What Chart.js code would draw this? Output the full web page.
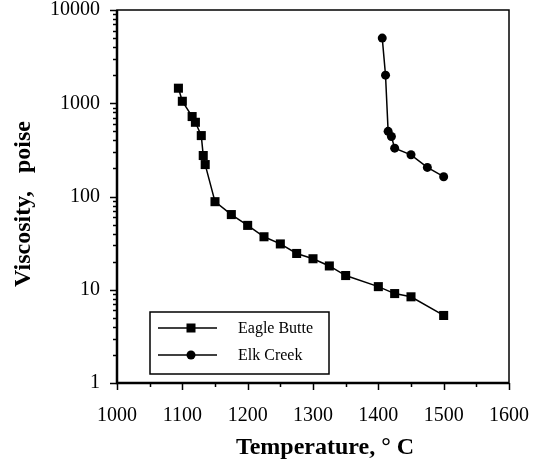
<!DOCTYPE html>
<html>
<head>
<meta charset="utf-8">
<script src="https://cdn.jsdelivr.net/npm/chart.js@4"></script>
<style>
  html, body { margin: 0; padding: 0; background: #fff; }
  #wrap { width: 538px; height: 463px; position: relative; }
</style>
</head>
<body>
<div id="wrap"><canvas id="viscChart"></canvas></div>
<script>
// --- data ---
const eagleTemp = [1094, 1100, 1115, 1120, 1129, 1132, 1135, 1150, 1175, 1200, 1225, 1250, 1275, 1300, 1325, 1350, 1400, 1425, 1450, 1500];
const eagleVisc = [1450, 1050, 720, 625, 450, 275, 220, 88, 64, 49, 37, 31, 24.5, 21.5, 18, 14.2, 10.8, 9.1, 8.4, 5.3];
const elkTemp = [1406, 1411, 1415, 1420, 1425, 1450, 1475, 1500];
const elkVisc = [5000, 2000, 500, 440, 330, 280, 205, 163];
const xTicks = [1000, 1100, 1200, 1300, 1400, 1500, 1600];
const yTicks = [1, 10, 100, 1000, 10000];
const seriesNames = ["Eagle Butte", "Elk Creek"];

const SERIF = "'Liberation Serif', 'Times New Roman', serif";

function pts(xs, ys) { return xs.map((x, i) => ({ x: x, y: ys[i] })); }

// frame, tick marks, axis titles and the boxed legend
const framePlugin = {
    id: 'frame',
    afterDraw(chart) {
        const ctx = chart.ctx;
        const a = chart.chartArea;
        const xs = chart.scales.x, ys = chart.scales.y;
        ctx.save();
        ctx.strokeStyle = '#000';

        // box
        ctx.lineWidth = 1.5;
        ctx.strokeRect(a.left, a.top, a.right - a.left, a.bottom - a.top);
        ctx.lineWidth = 2.5;
        ctx.beginPath();
        ctx.moveTo(a.left, a.top); ctx.lineTo(a.left, a.bottom); ctx.lineTo(a.right, a.bottom);
        ctx.stroke();

        // y ticks (log, with minors)
        ctx.lineWidth = 1.5;
        for (let d = 0; d < yTicks.length; d++) {
            const base = yTicks[d];
            for (let m = 1; m <= 9; m++) {
                const v = base * m;
                if (v > yTicks[yTicks.length - 1]) break;
                const py = Math.round(ys.getPixelForValue(v)) + 0.5;
                const len = m === 1 ? 7 : 4;
                ctx.beginPath();
                ctx.moveTo(a.left - len, py); ctx.lineTo(a.left, py);
                ctx.stroke();
            }
        }
        // x ticks with half-steps
        for (let i = 0; i < xTicks.length; i++) {
            const px = Math.round(xs.getPixelForValue(xTicks[i])) + 0.5;
            ctx.beginPath();
            ctx.moveTo(px, a.bottom); ctx.lineTo(px, a.bottom + 7);
            ctx.stroke();
            if (i < xTicks.length - 1) {
                const hx = Math.round(xs.getPixelForValue((xTicks[i] + xTicks[i + 1]) / 2)) + 0.5;
                ctx.beginPath();
                ctx.moveTo(hx, a.bottom); ctx.lineTo(hx, a.bottom + 4);
                ctx.stroke();
            }
        }

        // axis titles
        ctx.fillStyle = '#000';
        ctx.font = "bold 24px " + SERIF;
        ctx.textAlign = 'center';
        ctx.textBaseline = 'middle';
        ctx.fillText('Temperature, \u00B0 C', 325, 448);
        ctx.save();
        ctx.translate(24, 204);
        ctx.rotate(-Math.PI / 2);
        ctx.fillText('Viscosity,   poise', 0, 0);
        ctx.restore();

        // legend
        const lx = 150, ly = 312, lw = 179, lh = 62;
        ctx.fillStyle = '#fff';
        ctx.fillRect(lx, ly, lw, lh);
        ctx.lineWidth = 1.5;
        ctx.strokeRect(lx, ly, lw, lh);
        const rows = [ly + 16, ly + 43];
        chart.data.datasets.forEach((ds, i) => {
            const y = rows[i];
            ctx.lineWidth = 1.5;
            ctx.beginPath();
            ctx.moveTo(158, y); ctx.lineTo(217, y);
            ctx.stroke();
            ctx.fillStyle = '#000';
            if (ds.pointStyle === 'rect') {
                ctx.fillRect(191 - 4.5, y - 4.5, 9, 9);
            } else {
                ctx.beginPath();
                ctx.arc(191, y, 4.5, 0, Math.PI * 2);
                ctx.fill();
            }
            ctx.font = "16px " + SERIF;
            ctx.textAlign = 'left';
            ctx.fillText(ds.label, 238, y + 1);
        });
        ctx.restore();
    }
};

new Chart(document.getElementById('viscChart'), {
    type: 'scatter',
    data: {
        datasets: [
            {
                label: seriesNames[0],
                data: pts(eagleTemp, eagleVisc),
                showLine: true,
                borderColor: '#000',
                backgroundColor: '#000',
                borderWidth: 1.5,
                pointStyle: 'rect',
                pointRadius: 6.4,
                pointBorderWidth: 0
            },
            {
                label: seriesNames[1],
                data: pts(elkTemp, elkVisc),
                showLine: true,
                borderColor: '#000',
                backgroundColor: '#000',
                borderWidth: 1.5,
                pointStyle: 'circle',
                pointRadius: 4.5,
                pointBorderWidth: 0
            }
        ]
    },
    options: {
        responsive: true,
        maintainAspectRatio: false,
        animation: false,
        layout: { padding: { top: 10, right: 29, left: 0, bottom: 0 } },
        plugins: {
            legend: { display: false },
            tooltip: { enabled: false }
        },
        scales: {
            x: {
                type: 'linear',
                min: xTicks[0],
                max: xTicks[xTicks.length - 1],
                afterBuildTicks: s => { s.ticks = xTicks.map(v => ({ value: v })); },
                afterFit: s => { s.height = 80; s.paddingLeft = 0; s.paddingRight = 0; },
                grid: { display: false },
                border: { display: false },
                ticks: {
                    color: '#000',
                    padding: 13,
                    maxRotation: 0,
                    font: { family: SERIF, size: 20 },
                    callback: v => String(v)
                }
            },
            y: {
                type: 'logarithmic',
                min: yTicks[0],
                max: yTicks[yTicks.length - 1],
                afterBuildTicks: s => { s.ticks = yTicks.map(v => ({ value: v })); },
                afterFit: s => { s.width = 117; s.paddingTop = 0; s.paddingBottom = 0; },
                grid: { display: false },
                border: { display: false },
                ticks: {
                    color: '#000',
                    padding: 9,
                    font: { family: SERIF, size: 20 },
                    callback: v => String(v)
                }
            }
        }
    },
    plugins: [framePlugin]
});
</script>
</body>
</html>
